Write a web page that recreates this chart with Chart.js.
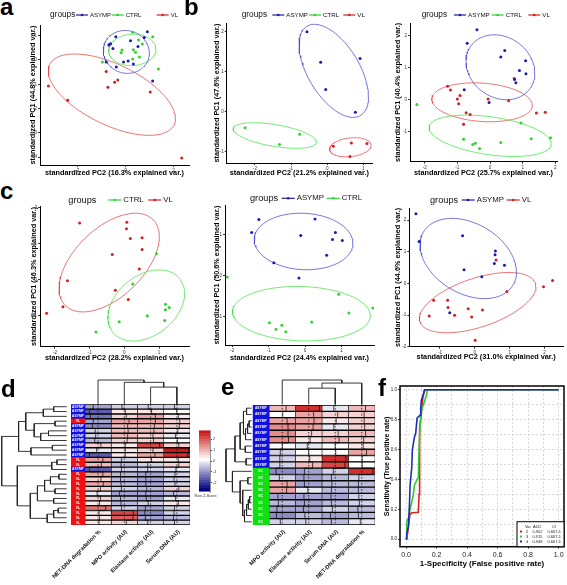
<!DOCTYPE html>
<html>
<head>
<meta charset="utf-8">
<script src="https://cdn.jsdelivr.net/npm/chart.js@4.4.0/dist/chart.umd.min.js"></script>
<style>
  body { margin: 0; background: #fff; }
  #fig { position: relative; width: 567px; height: 585px; overflow: hidden; background: #fff; font-family: "Liberation Sans", Arial, sans-serif; }
  #fig canvas { position: absolute; }
  .tag { position: absolute; font-size: 24px; font-weight: bold; line-height: 24px; z-index: 5; color: #000; }
</style>
</head>
<body>
<div id="fig">
  <div class="tag" style="left:0px;top:-5px">a</div>
  <div class="tag" style="left:184px;top:-5px">b</div>
  <div class="tag" style="left:0px;top:179px">c</div>
  <div class="tag" style="left:1px;top:377px">d</div>
  <div class="tag" style="left:221px;top:375px">e</div>
  <div class="tag" style="left:378px;top:376px">f</div>
</div>
<script>
// ---- PCA scores, [PC2, PC1] per sample ----
const aAsymp = [[-0.40,0.96],[-0.62,0.67],[-0.69,0.62],[-0.52,0.47],[0.21,0.79],[0.52,0.56],[0.91,1.16],[0.78,0.93],[-0.80,-0.08],[-0.38,-0.29],[-0.08,-0.08],[0.11,-0.04],[0.33,-0.16],[1.13,-0.86]]
const aCtrl = [[0.30,1.14],[1.13,0.96],[0.54,0.82],[0.33,0.42],[0.42,0.32],[-0.14,0.41],[-0.18,0.30],[-0.66,0.65],[-0.96,-0.08],[1.37,-0.37],[0.30,0.04],[0.58,0.12],[0.70,0.66]]
const aVl = [[-3.20,-1.07],[-2.40,-1.66],[-0.80,-0.47],[-0.45,-0.92],[-0.32,-0.82],[-0.73,-1.12],[1.03,-1.32],[2.34,-4.03]]

const bAsymp = [[-0.56,2.0],[-0.18,1.24],[0.91,1.33],[-0.04,0.56],[0.78,-0.01]]
const bCtrl = [[-2.27,-0.40],[-1.32,-0.82],[-0.76,-0.56]]
const bVl = [[0.17,-0.86],[0.67,-0.78],[1.10,-0.79],[0.63,-1.12]]

const b2Asymp = [[-0.40,2.19],[-0.70,1.77],[0.45,1.54],[0.33,1.34],[1.09,1.22],[0.90,0.91],[1.10,0.81],[0.75,0.63],[0.79,0.53],[-0.79,0.31],[-0.03,-0.09]]
const b2Ctrl = [[-2.24,-0.15],[-0.81,-1.24],[-0.53,-1.40],[-0.45,-1.36],[-0.32,-1.53],[0.33,-1.34],[0.95,-0.73],[1.26,-1.22],[1.85,-1.19]]
const b2Vl = [[-1.30,0.42],[-1.21,0.30],[-0.92,0.13],[-1.00,0.02],[-0.96,-0.13],[-0.73,-0.41],[-0.61,-0.46],[-0.06,0.02],[0.57,-0.03],[-0.81,-0.77],[1.42,-0.42],[1.69,-0.39],[0.74,0.66]]

const cCtrl = [[0.92,0.72],[0.24,-0.12],[1.18,-0.68],[1.18,-0.83],[1.29,-0.77],[0.66,-1.0],[1.16,-1.13],[-0.15,-1.17],[-0.82,-1.45]]
const cVl = [[-1.29,1.58],[0.07,1.60],[0.06,1.42],[0.17,1.15],[0.51,1.17],[-0.35,0.70],[0.51,0.84],[0.43,0.30],[-1.64,-0.03],[-0.26,-0.29],[0.11,-0.55],[-1.77,-0.75],[-2.24,-0.93]]

const c2Asymp = [[-1.27,1.36],[-1.47,1.04],[-0.12,0.97],[0.27,1.37],[0.83,1.04],[0.75,0.87],[1.02,0.85],[0.59,0.49],[-0.86,0.31],[-0.17,-0.06]]
const c2Ctrl = [[-2.14,-0.04],[0.92,-0.46],[1.20,-0.91],[1.86,-0.79],[-0.98,-1.15],[-0.80,-1.31],[-0.64,-1.21],[-0.53,-1.37],[0.18,-1.13]]

const c3Asymp = [[-1.69,2.20],[-1.60,1.32],[-0.35,1.50],[-0.31,0.43],[0.59,1.02],[0.58,0.90],[0.56,0.63],[0.85,0.57],[0.20,0.21],[-0.72,-0.93]]
const c3Vl = [[0.61,0.74],[0.92,-0.26],[1.97,-0.11],[2.23,0.09],[-1.18,-0.53],[-0.78,-0.53],[-0.77,-0.76],[-1.31,-1.03],[-0.58,-1.01],[-0.19,-0.80],[-0.09,-1.06],[0.22,-0.84],[0.01,-1.80]]

const varPC1 = [44.8, 47.6, 40.4, 46.3, 50.6, 44.6]
const varPC2 = [16.3, 21.2, 25.7, 28.2, 24.4, 31.0]

// ---- heatmaps (row z-scores) ----
const dCols = ['NET-DNA degradation %', 'MPO activity (AU)', 'Elastase activity (AU)', 'Serum DNA (AU)']
const dRows = ['ASYMP','ASYMP','ASYMP','VL','ASYMP','ASYMP','ASYMP','ASYMP','ASYMP','ASYMP','ASYMP','VL','VL','ASYMP','VL','VL','VL','VL','VL','VL','VL','VL','VL','VL','VL']
const dZ = [
  [-1.0,-0.5,-0.5,-0.5],[-1.8,0.2,0.2,0.0],[-1.6,0.4,1.0,0.3],[-1.0,1.0,1.0,0.6],[-1.2,0.7,0.8,0.5],
  [-0.6,0.8,0.7,0.2],[-0.5,0.7,0.5,-0.3],[-0.7,0.6,0.6,0.1],[0.6,0.2,1.9,0.4],[-0.3,0.2,0.5,2.5],
  [-1.8,0.2,0.9,2.3],[1.0,-0.6,0.2,0.3],[0.7,-0.7,-0.6,0.4],[-1.8,-0.6,-0.6,-0.2],[1.0,-0.8,-1.0,-0.4],
  [0.6,-0.8,-1.0,-0.6],[1.1,-0.7,-1.0,-0.4],[0.5,-0.6,-0.8,0.4],[-0.2,-1.0,-1.0,-0.7],[0.5,-0.8,-0.9,-0.3],
  [0.3,-0.7,-0.5,0.3],[1.6,-0.6,-1.1,-0.5],[0.2,1.9,-1.2,-0.6],[0.3,1.8,-1.1,-0.7],[0.2,0.4,-0.6,-0.5]
]
// row merges: [left, right, height]; negative = leaf, positive = earlier merge
const dRowMerge = [
  [-1,-2,2.0],[1,-3,3.6],[-4,-5,1.8],[-6,-7,2.8],[4,-8,4.0],[3,5,5.0],[2,6,6.3],[-9,-10,2.2],[8,-11,5.5],[7,9,7.4],
  [-12,-13,1.5],[11,-14,2.3],[-15,-16,1.2],[13,-17,2.5],[-18,-19,1.8],[14,15,3.4],[-20,-21,2.0],[16,17,4.5],
  [-22,-23,1.3],[19,-24,2.0],[20,-25,3.0],[18,21,5.6],[12,22,7.6],[10,23,10]
]
const dColMerge = [[-3,-4,1.7],[-2,1,2.17],[-1,2,2.4]]

const eCols = ['MPO activity (AU)', 'Elastase activity (AU)', 'Serum DNA (AU)', 'NET-DNA degradation %']
const eRows = ['ASYMP','ASYMP','ASYMP','ASYMP','ASYMP','ASYMP','ASYMP','ASYMP','ASYMP','ASYMP','EC','EC','EC','EC','EC','EC','EC','EC','EC']
const eZ = [
  [0.8,2.2,-0.3,0.8],[0.1,1.0,0.5,0.5],[1.0,1.1,0.2,0.5],[1.2,0.9,-0.3,0.6],[1.2,0.6,0.6,0.8],
  [1.3,0.3,0.8,0.4],[0.0,-0.3,0.0,0.3],[-0.4,0.0,0.1,1.0],[-0.5,0.2,2.2,0.1],[-0.5,0.8,2.0,0.1],
  [-1.3,-0.9,-0.4,2.3],[-0.6,-1.0,-0.8,-0.6],[1.0,-0.9,-0.7,-0.7],[0.9,-0.2,-0.8,-0.7],[-0.9,-1.0,-0.9,-0.6],
  [-0.8,-0.9,-0.8,-0.5],[-1.1,-1.1,-0.6,-0.8],[-1.2,-0.8,-1.0,-0.7],[-0.4,-0.6,-0.8,-0.3]
]
const eRowMerge = [
  [-1,-2,2.0],[-3,-4,1.0],[2,-5,1.6],[3,-6,2.4],[1,4,3.2],[-7,-8,2.5],[5,6,4.5],[-9,-10,2.2],[7,8,6.5],
  [-12,-13,1.5],[-15,-16,0.8],[11,-17,1.3],[12,-18,2.0],[13,-19,2.8],[-14,14,3.5],[10,15,4.5],[-11,16,7.5],[9,17,10]
]
const eColMerge = [[-2,-3,1.6],[1,-4,2.1],[-1,2,2.4]]

// ---- ROC curves, [FPR, TPR] ----
const rocVar2 = [[0,0],[0.01,0.04],[0.015,0.085],[0.024,0.16],[0.033,0.175],[0.08,0.18],[0.085,0.30],[0.087,0.52],[0.09,0.74],[0.10,0.84],[0.11,0.95],[0.12,0.99],[0.13,1.0],[1.0,1.0]]
const rocVar3 = [[0,0],[0.004,0.12],[0.015,0.14],[0.026,0.20],[0.048,0.30],[0.054,0.36],[0.072,0.40],[0.08,0.41],[0.085,0.61],[0.092,0.77],[0.10,0.86],[0.12,0.92],[0.135,0.97],[0.14,1.0],[1.0,1.0]]
const rocVar4 = [[0,0],[0.004,0.04],[0.015,0.085],[0.022,0.23],[0.026,0.36],[0.037,0.48],[0.041,0.60],[0.054,0.68],[0.063,0.71],[0.072,0.81],[0.092,0.83],[0.096,0.88],[0.10,0.93],[0.113,0.97],[0.12,1.0],[1.0,1.0]]
const rocVars = ['2', '3', '4']
const rocAUC = ['0.902', '0.915', '0.948']
const rocCI = ['0.667-1', '0.667-1', '0.667-1']

const FONT = '"Liberation Sans", Arial, sans-serif'
const groupColors = {ASYMP: '#1c1ca8', CTRL: '#2fd42f', VL: '#d02020'}
const ellipseColors = {ASYMP: 'rgba(70,70,215,0.75)', CTRL: 'rgba(70,225,70,0.75)', VL: 'rgba(228,70,70,0.75)'}
const rowColors = {ASYMP: '#1010e0', VL: '#f01010', EC: '#10e010'}

Chart.defaults.font.family = FONT

const fig = document.getElementById('fig')
const makeCanvas = (x, y, w, h) => {
    let c = document.createElement('canvas')
    c.width = w; c.height = h
    c.style.left = x + 'px'; c.style.top = y + 'px'
    c.style.width = w + 'px'; c.style.height = h + 'px'
    fig.appendChild(c)
    return c
}

const baseOpts = {responsive: false, devicePixelRatio: 1, animation: false,
    plugins: {legend: {display: false}, tooltip: {enabled: false}}}

// 68% normal data ellipse, like ggbiplot
const dataEllipse = (pts) => {
    let n = pts.length
    let mx = pts.reduce((s, p) => s + p[0], 0) / n
    let my = pts.reduce((s, p) => s + p[1], 0) / n
    let sxx = 0, syy = 0, sxy = 0
    pts.forEach(([x, y]) => { sxx += (x - mx) ** 2; syy += (y - my) ** 2; sxy += (x - mx) * (y - my) })
    sxx /= n - 1; syy /= n - 1; sxy /= n - 1
    let r = Math.sqrt(-2 * Math.log(1 - 0.68))
    let a = Math.sqrt(sxx), b = sxy / a, c = Math.sqrt(Math.max(syy - b * b, 0))
    let out = []
    for (let k = 0; k <= 120; k++) {
        let t = 2 * Math.PI * k / 120
        out.push({x: mx + r * a * Math.cos(t), y: my + r * (b * Math.cos(t) + c * Math.sin(t))})
    }
    return out
}

const legendRow = (lg, cx, cy) => ({
    id: 'legendRow',
    afterDraw(chart) {
        let ctx = chart.ctx, y = lg.y - cy
        ctx.save()
        ctx.textBaseline = 'middle'
        ctx.fillStyle = '#111'
        ctx.font = `${lg.fsG}px ${FONT}`
        ctx.fillText('groups', lg.gx - cx, y)
        ctx.font = `${lg.fsI}px ${FONT}`
        lg.items.forEach(([sx, name]) => {
            let x = sx - cx
            ctx.strokeStyle = groupColors[name]; ctx.lineWidth = 1.2
            ctx.beginPath(); ctx.moveTo(x, y); ctx.lineTo(x + lg.sym, y); ctx.stroke()
            ctx.fillStyle = groupColors[name]
            ctx.beginPath(); ctx.arc(x + lg.sym / 2, y, 1.3, 0, 2 * Math.PI); ctx.fill()
            ctx.fillStyle = '#111'
            ctx.fillText(name, x + lg.sym + 2, y)
        })
        ctx.restore()
    }
})

const pcaAxis = (min, max, step, title, size) => ({
    type: 'linear', min, max,
    afterFit: s => { if (s.isHorizontal()) s.height = size; else s.width = size },
    ticks: {stepSize: step, includeBounds: false, autoSkip: false, maxRotation: 0, font: {size: 4.6}, color: '#333', padding: 1},
    grid: {drawOnChartArea: false, drawTicks: true, tickLength: 2, color: '#333'},
    border: {display: true, color: '#000', width: 1},
    title: {display: true, text: title, font: {size: 7.3, weight: 'bold'}, color: '#000', padding: 0}
})

const pcaPanel = (p) => {
    let [L, T, R, B] = p.area
    let half = 7.3 * 0.6
    let cx = Math.floor(p.yTitleX - half - 2), cy = Math.floor(p.legend.y - 10)
    let padLeft = p.yTitleX - half - cx
    let bottomEdge = p.xTitleY + half
    let cw = Math.ceil(R + 3 - cx), ch = Math.ceil(bottomEdge - cy)
    let datasets = []
    p.groups.forEach(([name, pts]) => datasets.push({
        data: pts.map(([x, y]) => ({x, y})), pointRadius: 1.5, pointBorderWidth: 0,
        pointBackgroundColor: groupColors[name], showLine: false
    }))
    p.groups.forEach(([name, pts]) => datasets.push({
        data: dataEllipse(pts), showLine: true, pointRadius: 0, borderColor: ellipseColors[name], borderWidth: 1
    }))
    new Chart(makeCanvas(cx, cy, cw, ch), {
        type: 'scatter',
        data: {datasets},
        options: {...baseOpts,
            layout: {padding: {left: padLeft, top: T - cy, right: cx + cw - R, bottom: cy + ch - bottomEdge}},
            scales: {
                x: pcaAxis(p.xr[0], p.xr[1], p.xs, `standardized PC2 (${varPC2[p.k].toFixed(1)}% explained var.)`, bottomEdge - B),
                y: pcaAxis(p.yr[0], p.yr[1], p.ys, `standardized PC1 (${varPC1[p.k].toFixed(1)}% explained var.)`, L - cx - padLeft)
            }
        },
        plugins: [legendRow(p.legend, cx, cy)]
    })
}

const panels = [
    {k: 0, area: [40, 25, 190, 165], yTitleX: 33.3, xTitleY: 173.3, xr: [-3.55, 2.64], yr: [-4.32, 1.44], xs: 2, ys: 1,
     groups: [['ASYMP', aAsymp], ['CTRL', aCtrl], ['VL', aVl]],
     legend: {y: 15, gx: 50, fsG: 8.3, fsI: 6, sym: 12, items: [[76, 'ASYMP'], [111.7, 'CTRL'], [156.7, 'VL']]}},
    {k: 1, area: [226.7, 23, 373, 163], yTitleX: 216.7, xTitleY: 173.3, xr: [-2.78, 1.24], yr: [-1.28, 2.22], xs: 1, ys: 1,
     groups: [['ASYMP', bAsymp], ['CTRL', bCtrl], ['VL', bVl]],
     legend: {y: 15, gx: 241.7, fsG: 8.3, fsI: 6.2, sym: 12, items: [[272.3, 'ASYMP'], [309, 'CTRL'], [343.3, 'VL']]}},
    {k: 2, area: [410, 23, 558, 161.7], yTitleX: 398.3, xTitleY: 173.3, xr: [-2.45, 2.05], yr: [-1.94, 2.4], xs: 1, ys: 1,
     groups: [['ASYMP', b2Asymp], ['CTRL', b2Ctrl], ['VL', b2Vl]],
     legend: {y: 15, gx: 421.7, fsG: 8.3, fsI: 6.2, sym: 12, items: [[454, 'ASYMP'], [491.7, 'CTRL'], [528.3, 'VL']]}},
    {k: 3, area: [40, 206, 190, 346.7], yTitleX: 34, xTitleY: 358.3, xr: [-2.43, 1.86], yr: [-1.86, 2.05], xs: 1, ys: 1,
     groups: [['CTRL', cCtrl], ['VL', cVl]],
     legend: {y: 200, gx: 68.3, fsG: 9.2, fsI: 7.8, sym: 13, items: [[108.3, 'CTRL'], [148.3, 'VL']]}},
    {k: 4, area: [225, 205, 375, 345], yTitleX: 217, xTitleY: 358.3, xr: [-2.2, 1.89], yr: [-1.69, 1.71], xs: 1, ys: 1,
     groups: [['ASYMP', c2Asymp], ['CTRL', c2Ctrl]],
     legend: {y: 198.3, gx: 250, fsG: 9.2, fsI: 7.8, sym: 13, items: [[281.7, 'ASYMP'], [326.7, 'CTRL']]}},
    {k: 5, area: [409.3, 208, 564, 346.7], yTitleX: 397.5, xTitleY: 356.7, xr: [-1.88, 2.53], yr: [-2.0, 2.38], xs: 1, ys: 1,
     groups: [['ASYMP', c3Asymp], ['VL', c3Vl]],
     legend: {y: 200, gx: 430, fsG: 9.2, fsI: 7.8, sym: 13, items: [[461.7, 'ASYMP'], [506.7, 'VL']]}}
]
panels.forEach(pcaPanel)

// ---- heatmaps ----
const zColor = (z) => {
    let q = Math.max(-1, Math.min(1, Math.round(z / 0.25) * 0.25 / 2.75))
    if (q < 0) {
        let t = -q
        return `rgb(${Math.round(255 - 255 * t)},${Math.round(255 - 255 * t)},${Math.round(255 - 127 * t)})`
    }
    return `rgb(${Math.round(255 - 55 * q)},${Math.round(255 * (1 - q))},${Math.round(255 * (1 - q))})`
}

const heatText = (p) => ({
    id: 'heatText',
    afterDatasetsDraw(chart) {
        let ctx = chart.ctx, xs = chart.scales.x, ys = chart.scales.y
        let n = p.rows.length, rowH = (chart.chartArea.bottom - chart.chartArea.top) / n
        ctx.save()
        ctx.strokeStyle = '#000'; ctx.lineWidth = 0.7
        p.cols.forEach((c, j) => {
            let xc = xs.getPixelForValue(j + 0.5)
            ctx.setLineDash([1.5, 1.5])
            ctx.beginPath(); ctx.moveTo(xc, chart.chartArea.top); ctx.lineTo(xc, chart.chartArea.bottom); ctx.stroke()
            ctx.setLineDash([])
            ctx.beginPath()
            p.z.forEach((r, i) => {
                let x = xs.getPixelForValue(j + (r[j] + 2.75) / 5.5)
                let yTop = ys.getPixelForValue(i) - rowH / 2
                if (i == 0) ctx.moveTo(x, yTop); else ctx.lineTo(x, yTop)
                ctx.lineTo(x, yTop + rowH)
            })
            ctx.stroke()
        })
        ctx.restore()
    },
    afterDraw(chart) {
        let ctx = chart.ctx, xs = chart.scales.x, ys = chart.scales.y
        ctx.save()
        ctx.fillStyle = '#fff'
        ctx.font = `bold 3.3px ${FONT}`
        ctx.textAlign = 'center'; ctx.textBaseline = 'middle'
        let xl = xs.getPixelForValue(-p.labW / 2)
        p.rows.forEach((r, i) => ctx.fillText(r, xl, ys.getPixelForValue(i)))
        ctx.fillStyle = '#111'
        ctx.font = `bold 5.7px ${FONT}`
        ctx.textAlign = 'right'
        p.cols.forEach((c, j) => {
            ctx.save()
            ctx.translate(xs.getPixelForValue(j + 0.5) + 2, chart.chartArea.bottom + 6)
            ctx.rotate(-Math.PI / 4)
            ctx.fillText(c, 0, 0)
            ctx.restore()
        })
        ctx.restore()
    }
})

const heatmapPanel = (p) => {
    let [L, T, R, B] = p.area, [cx, cy, cw, ch] = p.box
    let datasets = [{data: p.rows.map(() => [-p.labW, 0]), backgroundColor: p.rows.map(r => rowColors[r]), borderWidth: 0}]
    p.cols.forEach((c, j) => datasets.push({
        data: p.rows.map(() => [j, j + 1]),
        backgroundColor: p.z.map(r => zColor(r[j])),
        borderColor: '#000', borderWidth: {top: 1, bottom: 1, left: 0.6, right: 0.6}, borderSkipped: false
    }))
    datasets.forEach(d => Object.assign(d, {grouped: false, barPercentage: 1, categoryPercentage: 1}))
    new Chart(makeCanvas(cx, cy, cw, ch), {
        type: 'bar',
        data: {labels: p.rows, datasets},
        options: {...baseOpts, indexAxis: 'y',
            layout: {padding: {left: L - cx, top: T - cy, right: cx + cw - R, bottom: cy + ch - B}},
            scales: {x: {type: 'linear', min: -p.labW, max: p.cols.length, display: false}, y: {display: false}}
        },
        plugins: [heatText(p)]
    })
}

const dendroSegments = (merges) => {
    let pos = [], ht = [], segs = []
    let place = i => i < 0 ? [-i - 0.5, 0] : [pos[i - 1], ht[i - 1]]
    merges.forEach(([a, b, h], k) => {
        let [pa, ha] = place(a), [pb, hb] = place(b)
        segs.push([[pa, ha], [pa, h], [pb, h], [pb, hb]])
        pos[k] = (pa + pb) / 2; ht[k] = h
    })
    return segs
}

const dendroPanel = (p) => {
    let [L, T, R, B] = p.area, [cx, cy, cw, ch] = p.box
    let datasets = dendroSegments(p.merges).map(s => ({
        data: s.map(([pos, h]) => p.rows ? {x: h, y: pos} : {x: pos, y: h}),
        showLine: true, pointRadius: 0, borderColor: '#222', borderWidth: 0.9, clip: false
    }))
    let scales = p.rows
        ? {x: {type: 'linear', min: 0, max: p.hmax, reverse: true, display: false}, y: {type: 'linear', min: 0, max: p.n, reverse: true, display: false}}
        : {x: {type: 'linear', min: -p.labW, max: p.n, display: false}, y: {type: 'linear', min: 0, max: p.hmax, display: false}}
    new Chart(makeCanvas(cx, cy, cw, ch), {
        type: 'scatter',
        data: {datasets},
        options: {...baseOpts, scales,
            layout: {padding: {left: L - cx, top: T - cy, right: cx + cw - R, bottom: cy + ch - B}}}
    })
}

// d
dendroPanel({rows: true, merges: dRowMerge, n: dRows.length, hmax: 10, box: [0, 400, 70, 130], area: [1.7, 404.3, 66.7, 525]})
dendroPanel({rows: false, merges: dColMerge, n: dCols.length, labW: 0.53, hmax: 2.4, box: [0, 376, 192, 30], area: [71, 380, 190, 404.3]})
heatmapPanel({rows: dRows, cols: dCols, z: dZ, labW: 0.53, box: [0, 400, 192, 185], area: [71, 404.3, 190, 525]})
// e
dendroPanel({rows: true, merges: eRowMerge, n: eRows.length, hmax: 10, box: [222, 400, 32, 130], area: [226, 405, 251.7, 525]})
dendroPanel({rows: false, merges: eColMerge, n: eCols.length, labW: 0.615, hmax: 2.4, box: [190, 376, 187, 30], area: [252.7, 380, 375, 404.5]})
heatmapPanel({rows: eRows, cols: eCols, z: eZ, labW: 0.615, box: [190, 400, 187, 185], area: [252.7, 405, 375, 525]})

// colour key
const keyBins = []
for (let v = -2.75; v < 2.7; v += 0.25) keyBins.push(v)
new Chart(makeCanvas(192, 425, 35, 76), {
    type: 'bar',
    data: {labels: ['key'], datasets: keyBins.map(lo => ({
        data: [[lo, lo + 0.25]], backgroundColor: zColor(lo + 0.12), borderWidth: 0,
        grouped: false, barPercentage: 1, categoryPercentage: 1}))},
    options: {...baseOpts,
        layout: {padding: {left: 7, top: 5, right: 0, bottom: 9}},
        scales: {
            x: {display: false},
            y: {type: 'linear', position: 'right', min: -2.82, max: 2.82,
                afterFit: s => { s.width = 17 },
                ticks: {stepSize: 1, includeBounds: false, font: {size: 4}, color: '#333', padding: 1},
                grid: {drawOnChartArea: false, tickLength: 2, color: '#444'},
                border: {display: true, color: '#444', width: 0.6}}
        }
    },
    plugins: [{id: 'keyLabel', afterDraw(chart) {
        let ctx = chart.ctx
        ctx.save(); ctx.fillStyle = '#333'; ctx.font = `3.8px ${FONT}`; ctx.textAlign = 'center'; ctx.textBaseline = 'middle'
        ctx.fillText('Row Z-Score', (chart.chartArea.left + chart.chartArea.right) / 2 + 1, chart.chartArea.bottom + 3.5)
        ctx.restore()
    }}]
})

// ---- ROC ----
const rocColors = ['#d42222', '#2ecc2e', '#1f2dbf']
const even = v => Math.round(v * 10) % 2 === 0
new Chart(makeCanvas(375, 380, 192, 205), {
    type: 'scatter',
    data: {datasets: [rocVar4, rocVar3, rocVar2].map((d, i) => ({
        data: d.map(([x, y]) => ({x, y})), showLine: true, pointRadius: 0,
        borderColor: rocColors[2 - i], borderWidth: 1.6
    }))},
    options: {...baseOpts,
        layout: {padding: {left: 8.3, top: 6, right: 3, bottom: 16.9}},
        scales: {
            x: {type: 'linear', min: -0.04, max: 1.035, afterFit: s => { s.height = 21.4 },
                ticks: {stepSize: 0.1, includeBounds: false, autoSkip: false, maxRotation: 0, font: {size: 7}, color: '#222', padding: 2,
                        callback: v => even(v) ? v.toFixed(1) : ''},
                grid: {color: '#cfcfcf', lineWidth: 0.8, tickLength: 2, tickColor: c => c.tick && even(c.tick.value) ? '#222' : 'rgba(0,0,0,0)'},
                border: {display: false, dash: [2, 2]},
                title: {display: true, text: '1-Specificity (False positive rate)', font: {size: 8, weight: 'bold'}, color: '#000', padding: 0}},
            y: {type: 'linear', min: -0.05, max: 1.025, afterFit: s => { s.width = 16.7 },
                ticks: {stepSize: 0.1, includeBounds: false, autoSkip: false, font: {size: 4.5}, color: '#222', padding: 1,
                        callback: v => even(v) ? v.toFixed(1) : ''},
                grid: {color: '#cfcfcf', lineWidth: 0.8, tickLength: 2, tickColor: c => c.tick && even(c.tick.value) ? '#222' : 'rgba(0,0,0,0)'},
                border: {display: false, dash: [2, 2]},
                title: {display: true, text: 'Sensitivity (True positive rate)', font: {size: 7, weight: 'bold'}, color: '#000', padding: 0}}
        }
    },
    plugins: [{id: 'rocFrame', afterDraw(chart) {
        let ctx = chart.ctx, a = chart.chartArea
        ctx.save()
        ctx.strokeStyle = '#000'; ctx.lineWidth = 1.5
        ctx.strokeRect(a.left, a.top, a.right - a.left, a.bottom - a.top)
        // legend box
        let bw = 47, bh = 25, bx = a.right - bw, by = a.bottom - bh
        ctx.fillStyle = '#fff'; ctx.fillRect(bx, by, bw, bh)
        ctx.lineWidth = 1; ctx.strokeRect(bx, by, bw, bh)
        ctx.font = `4px ${FONT}`; ctx.textBaseline = 'middle'; ctx.fillStyle = '#222'
        ctx.fillText('Var', bx + 8, by + 5)
        ctx.fillText('AUC', bx + 16, by + 5)
        ctx.fillText('CI', bx + 35, by + 5)
        rocVars.forEach((v, i) => {
            let yy = by + 9.8 + i * 5
            ctx.fillStyle = rocColors[i]; ctx.fillRect(bx + 3, yy - 1, 2, 2)
            ctx.fillStyle = '#222'
            ctx.fillText(v, bx + 9, yy)
            ctx.fillText(rocAUC[i], bx + 15.5, yy)
            ctx.fillText(rocCI[i], bx + 30.5, yy)
        })
        ctx.restore()
    }}]
})
</script>
</body>
</html>
